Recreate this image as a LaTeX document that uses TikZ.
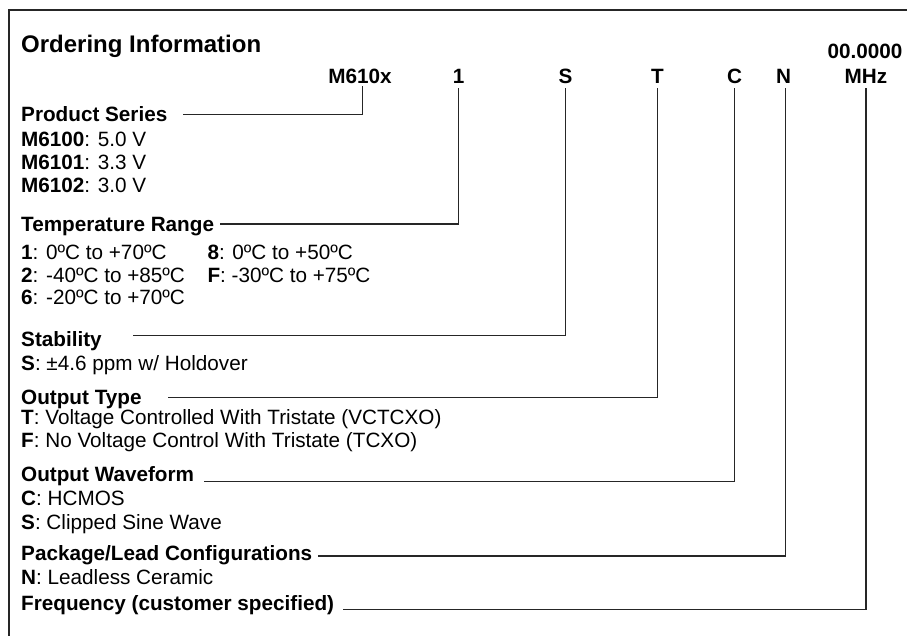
\documentclass[tikz,border=0pt]{standalone}
\usepackage{fontspec}
\setmainfont{Liberation Sans}
\begin{document}
\begin{tikzpicture}[x=1pt,y=-1pt,
  txt/.style={inner sep=0pt,anchor=base west,font=\fontsize{20.7}{23}\selectfont},
  hd/.style={inner sep=0pt,anchor=base west,font=\fontsize{20.7}{23}\selectfont\bfseries},
  code/.style={inner sep=0pt,anchor=base,font=\fontsize{20.7}{23}\selectfont\bfseries},
  conn/.style={line width=1.3pt,draw=black!85}]
\useasboundingbox (0,0) rectangle (907,636);
\draw[line width=1.4pt,black!85] (9,636) -- (9,10) -- (907,10);

% title
\node[inner sep=0pt,anchor=base west,font=\fontsize{24}{28}\selectfont\bfseries] (title) at (21,53) {Ordering Information};

% code row
\node[code] (lM) at (360,84) {M610x};
\node[code] (l1) at (458.5,84) {1};
\node[code] (lS) at (565.5,84) {S};
\node[code] (lT) at (657.5,84) {T};
\node[code] (lC) at (734.7,84) {C};
\node[code] (lN) at (783.7,84) {N};
\node[code] (lF) at (866,84) {MHz};
\node[code] (lF0) at (865,58.3) {00.0000};

% Product series
\node[hd] (hPS) at (21,122) {Product Series};
\node[txt] (ps1) at (21,147) {\textbf{M6100}: 5.0 V};
\node[txt] (ps2) at (21,170) {\textbf{M6101}: 3.3 V};
\node[txt] (ps3) at (21,193) {\textbf{M6102}: 3.0 V};

% Temperature range
\node[hd] (hTR) at (21,232) {Temperature Range};
\node[txt] (tr1) at (21,259) {\textbf{1}: 0ºC to +70ºC};
\node[txt] (tr2) at (21,282) {\textbf{2}: -40ºC to +85ºC};
\node[txt] (tr3) at (21,305) {\textbf{6}: -20ºC to +70ºC};
\node[txt] (tr4) at (207.3,259) {\textbf{8}: 0ºC to +50ºC};
\node[txt] (tr5) at (207.3,282) {\textbf{F}: -30ºC to +75ºC};

% Stability
\node[hd] (hST) at (21,346) {Stability};
\node[txt] (st1) at (21,370) {\textbf{S}: ±4.6 ppm w/ Holdover};

% Output type
\node[hd] (hOT) at (21,404) {Output Type};
\node[txt] (ot1) at (21,424) {\textbf{T}: Voltage Controlled With Tristate (VCTCXO)};
\node[txt] (ot2) at (21,447) {\textbf{F}: No Voltage Control With Tristate (TCXO)};

% Output waveform
\node[hd] (hOW) at (21,481) {Output Waveform};
\node[txt] (ow1) at (21,505) {\textbf{C}: HCMOS};
\node[txt] (ow2) at (21,529) {\textbf{S}: Clipped Sine Wave};

% Package
\node[hd] (hPL) at (21,560) {Package/Lead Configurations};
\node[txt] (pl1) at (21,584) {\textbf{N}: Leadless Ceramic};

% Frequency
\node[hd] (hFR) at (21,610) {Frequency (customer specified)};

% connector start points
\coordinate (sPS) at (183.3,114.3);
\coordinate (sTR) at (220,224);
\coordinate (sST) at (133.3,335.7);
\coordinate (sOT) at (168.3,397.5);
\coordinate (sOW) at (204,481.5);
\coordinate (sPL) at (318.3,556);
\coordinate (sFR) at (343.3,609.5);

\draw[conn] (sPS) -| ([xshift=2.7pt,yshift=-1.7pt]lM.south);
\draw[conn] (sTR) -| ([yshift=-3.7pt]l1.south);
\draw[conn] (sST) -| ([yshift=-3.7pt]lS.south);
\draw[conn] (sOT) -| ([yshift=-3.7pt]lT.south);
\draw[conn] (sOW) -| ([yshift=-3.7pt]lC.south);
\draw[conn] (sPL) -| ([xshift=2pt,yshift=-3.7pt]lN.south);
\draw[conn] (sFR) -| ([yshift=-3.7pt]lF.south);
\end{tikzpicture}
\end{document}
